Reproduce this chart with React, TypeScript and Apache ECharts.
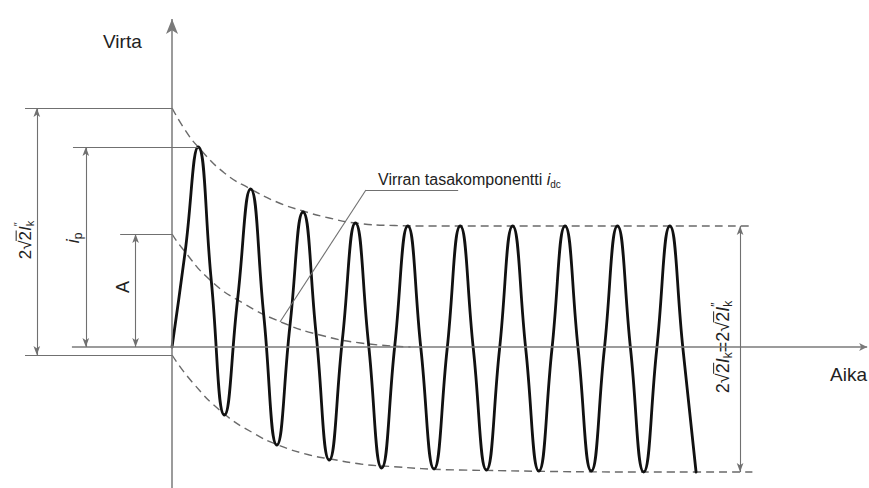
import React, { useEffect, useRef } from 'react';
import * as echarts from 'echarts';

// Time in ms (50 Hz, one period = 20 ms); current in arbitrary units.
// Extremes (peaks / troughs) and quarter-period points.
const waveT = [
  0, 5, 10, 15, 20, 25, 30, 35, 40, 45, 50, 55, 60, 65, 70, 75, 80, 85, 90, 95, 100,
  105, 110, 115, 120, 125, 130, 135, 140, 145, 150, 155, 160, 165, 170, 175, 180, 185, 190, 195, 200,
];
const waveI = [
  0, 0.95, 2.0, 0.66, -0.68, 0.47, 1.58, 0.32, -0.98, 0.21, 1.35, 0.13, -1.13, 0.07, 1.24, 0.03, -1.21, 0.01, 1.21, -0.02, -1.22,
  -0.02, 1.21, -0.02, -1.23, -0.02, 1.21, -0.02, -1.24, -0.02, 1.21, -0.02, -1.24, -0.02, 1.21, -0.02, -1.25, -0.02, 1.21, -0.02, -1.25,
];

const upperT = [0, 5, 10, 20, 30, 40, 50, 60, 70, 85, 100, 220.5];
const upperI = [2.39, 2.17, 2.0, 1.74, 1.58, 1.45, 1.36, 1.29, 1.24, 1.215, 1.21, 1.21];

const lowerT = [0, 8, 19.5, 31, 40.5, 52.5, 60.5, 72, 80.5, 110, 200, 221.5];
const lowerI = [-0.08, -0.36, -0.66, -0.86, -0.98, -1.08, -1.12, -1.17, -1.19, -1.23, -1.25, -1.25];

const dcT = [0, 3.8, 14.5, 27, 42.5, 56.5, 72, 91];
const dcI = [1.13, 0.99, 0.67, 0.44, 0.24, 0.12, 0.04, 0];

const leaderT = [41.2, 74, 109.2];
const leaderI = [0.25, 1.57, 1.57];

const X_MIN = -65.65;
const X_MAX = 266;
const Y_MIN = -1.41;
const Y_MAX = 3.47;

const FONT_FAMILY = '"Liberation Sans", Arial, "DejaVu Sans", sans-serif';
const TEXT_COLOR = '#222';
const DIM_COLOR = '#707070';

const zip = (a: number[], b: number[]) => a.map((v, i) => [v, b[i]]);

type Part = { t: string; size: number; italic?: boolean; dy?: number; over?: boolean; stack?: boolean };

function formula(parts: Part[], cx: number, cy: number, rotation: number, align: 'center' | 'left' = 'center') {
  const ctx = document.createElement('canvas').getContext('2d')!;
  let x = 0;
  let pending = 0;
  const items: any[] = [];
  parts.forEach((p) => {
    const font = `${p.italic ? 'italic ' : ''}${p.size}px ${FONT_FAMILY}`;
    ctx.font = font;
    const w = ctx.measureText(p.t).width;
    items.push({ ...p, x, w, font });
    if (p.stack) {
      pending = w;
    } else {
      x += Math.max(w, pending);
      pending = 0;
    }
  });
  const off = align === 'center' ? -x / 2 : 0;
  const children: any[] = [];
  items.forEach((it) => {
    children.push({
      type: 'text',
      x: it.x + off,
      y: it.dy || 0,
      style: {
        text: it.t,
        font: it.font,
        fill: TEXT_COLOR,
        textAlign: 'left',
        textVerticalAlign: 'middle',
        align: 'left',
        verticalAlign: 'middle',
      },
    });
    if (it.over) {
      const yy = (it.dy || 0) - it.size * 0.52;
      children.push({
        type: 'line',
        shape: { x1: it.x + off - 0.5, y1: yy, x2: it.x + off + it.w + 0.5, y2: yy },
        style: { stroke: TEXT_COLOR, lineWidth: 1 },
      });
    }
  });
  return { type: 'group', x: cx, y: cy, rotation, children, silent: true };
}

const ARROW_SMALL = [5, 9];

function seg(a: number[], b: number[], startArrow = false, endArrow = false, size: number[] = ARROW_SMALL, style?: any) {
  return [
    { coord: a, symbol: startArrow ? 'arrow' : 'none', symbolSize: size, lineStyle: style },
    { coord: b, symbol: endArrow ? 'arrow' : 'none', symbolSize: size },
  ];
}

export default function App() {
  const ref = useRef<HTMLDivElement>(null);

  useEffect(() => {
    if (!ref.current) return;
    const chart = echarts.init(ref.current, undefined, { renderer: 'svg' });

    const last = (arr: number[]) => arr[arr.length - 1];
    const axisStyle = { color: '#7a7a7a', width: 1.5, type: 'solid' };

    const markData = [
      // axes
      seg([-38.2, 0], [265.3, 0], false, true, [6, 8], axisStyle),
      seg([0, Y_MIN], [0, 3.28], false, true, [9, 15], axisStyle),
      // outer dimension 2√2 I''k
      seg([-56.1, upperI[0]], [0, upperI[0]]),
      seg([-56.1, lowerI[0]], [0, lowerI[0]]),
      seg([-51.6, upperI[0]], [-51.6, lowerI[0]], true, true),
      // i_p dimension
      seg([-37.8, waveI[2]], [waveT[2], waveI[2]]),
      seg([-32.9, waveI[2]], [-32.9, 0], true, true),
      // A dimension
      seg([-19.8, dcI[0]], [0, dcI[0]]),
      seg([-13.9, dcI[0]], [-13.9, 0], true, true),
      // right dimension
      seg([216.8, last(upperI)], [216.8, last(lowerI)], true, true),
      // leader line
      seg([leaderT[0], leaderI[0]], [leaderT[1], leaderI[1]]),
      seg([leaderT[1], leaderI[1]], [leaderT[2], leaderI[2]]),
    ];

    const dashed = { type: [8, 5], width: 1.4, color: '#6a6a6a' };

    const option: any = {
      animation: false,
      backgroundColor: '#ffffff',
      grid: { left: 0, right: 0, top: 0, bottom: 0 },
      xAxis: { type: 'value', min: X_MIN, max: X_MAX, show: false },
      yAxis: { type: 'value', min: Y_MIN, max: Y_MAX, show: false },
      series: [
        {
          type: 'line',
          name: 'upper',
          data: zip(upperT, upperI),
          smooth: 0.5,
          showSymbol: false,
          lineStyle: dashed,
          silent: true,
          z: 2,
        },
        {
          type: 'line',
          name: 'lower',
          data: zip(lowerT, lowerI),
          smooth: 0.5,
          showSymbol: false,
          lineStyle: dashed,
          silent: true,
          z: 2,
        },
        {
          type: 'line',
          name: 'dc',
          data: zip(dcT, dcI),
          smooth: 0.5,
          showSymbol: false,
          lineStyle: dashed,
          silent: true,
          z: 2,
        },
        {
          type: 'line',
          name: 'current',
          data: zip(waveT, waveI),
          smooth: 0.5,
          showSymbol: false,
          lineStyle: { width: 2.8, color: '#111', cap: 'round', join: 'round' },
          silent: true,
          z: 3,
          markLine: {
            silent: true,
            animation: false,
            label: { show: false },
            symbol: ['none', 'none'],
            lineStyle: { color: DIM_COLOR, width: 1.1, type: 'solid' },
            emphasis: { disabled: true },
            data: markData,
          },
        },
      ],
      graphic: [
        formula([{ t: 'Virta', size: 19 }], 103, 41, 0, 'left'),
        formula([{ t: 'Aika', size: 19 }], 830, 374, 0, 'left'),
        formula(
          [
            { t: 'Virran tasakomponentti ', size: 16 },
            { t: 'i', size: 16, italic: true },
            { t: 'dc', size: 10, dy: 5 },
          ],
          378,
          179,
          0,
          'left'
        ),
        formula(
          [
            { t: '2', size: 17 },
            { t: '√', size: 17 },
            { t: '2', size: 17, over: true },
            { t: 'I', size: 17, italic: true },
            { t: '″', size: 11, dy: -7, stack: true },
            { t: 'k', size: 11, dy: 5 },
          ],
          25,
          240,
          Math.PI / 2
        ),
        formula(
          [
            { t: 'i', size: 18, italic: true },
            { t: 'p', size: 12, dy: 5 },
          ],
          73,
          238,
          Math.PI / 2
        ),
        formula([{ t: 'A', size: 18 }], 123, 287, Math.PI / 2),
        formula(
          [
            { t: '2', size: 18 },
            { t: '√', size: 18 },
            { t: '2', size: 18, over: true },
            { t: 'I', size: 18, italic: true },
            { t: 'k', size: 12, dy: 5 },
            { t: '=', size: 18 },
            { t: '2', size: 18 },
            { t: '√', size: 18 },
            { t: '2', size: 18, over: true },
            { t: 'I', size: 18, italic: true },
            { t: '″', size: 12, dy: -7, stack: true },
            { t: 'k', size: 12, dy: 5 },
          ],
          723,
          347,
          Math.PI / 2
        ),
      ],
    };

    chart.setOption(option);
    return () => chart.dispose();
  }, []);

  return (
    <div
      ref={ref}
      style={{ position: 'fixed', left: 0, top: 0, width: 869, height: 488, background: '#fff' }}
    />
  );
}
